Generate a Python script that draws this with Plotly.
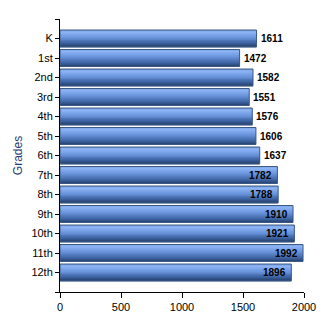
import plotly.graph_objects as go

grades = ["K", "1st", "2nd", "3rd", "4th", "5th", "6th", "7th", "8th", "9th", "10th", "11th", "12th"]
counts = [1611, 1472, 1582, 1551, 1576, 1606, 1637, 1782, 1788, 1910, 1921, 1992, 1896]
x_ticks = [0, 500, 1000, 1500, 2000]

pos = list(range(len(grades)))
bar_w = 0.87

# vertical gradient (top -> bottom) approximating the Excel-style bars
stops = [(0.0, (0x70, 0x98, 0xd8)), (0.12, (0x8e, 0xb6, 0xf6)), (0.45, (0x6a, 0x94, 0xdc)),
         (0.8, (0x3f, 0x66, 0xa6)), (1.0, (0x28, 0x45, 0x72))]

def grad(t):
    for (t0, c0), (t1, c1) in zip(stops[:-1], stops[1:]):
        if t0 <= t <= t1:
            f = (t - t0) / (t1 - t0)
            return "rgb(%d,%d,%d)" % tuple(round(a + (b - a) * f) for a, b in zip(c0, c1))
    return "rgb(%d,%d,%d)" % stops[-1][1]

n = 17
fig = go.Figure()
sw = bar_w / n
for i in range(n):
    fig.add_trace(go.Bar(
        y=pos, x=counts, orientation="h",
        width=sw * 1.15, offset=-bar_w / 2 + i * sw,
        marker=dict(color=grad((i + 0.5) / n), line=dict(width=0)),
        hoverinfo="skip", showlegend=False,
    ))

fig.add_trace(go.Bar(
    y=pos, x=counts, orientation="h", width=bar_w,
    marker=dict(color="rgba(0,0,0,0)", line=dict(color="#3d5a86", width=1)),
    showlegend=False,
))

# value labels: outside for the shorter bars, inside end for the longer ones
for i, (p, c) in enumerate(zip(pos, counts)):
    outside = i < 7
    fig.add_annotation(
        x=c, y=p, xref="x", yref="y", text=str(c), showarrow=False,
        xanchor="left" if outside else "right", yanchor="middle",
        xshift=2 if outside else -3,
        font=dict(family="Arial, Liberation Sans", size=10, color="#000000", weight="bold"),
    )

fig.update_layout(
    width=330, height=330,
    margin=dict(l=60, r=26, t=19, b=38),
    barmode="overlay",
    paper_bgcolor="white", plot_bgcolor="white",
    font=dict(family="Arial, Liberation Sans", size=11, color="black"),
)
fig.update_xaxes(
    range=[0, 2000], tickvals=x_ticks, ticktext=[str(v) for v in x_ticks],
    showgrid=False, zeroline=False, showline=True, linecolor="black", linewidth=1,
    ticks="outside", ticklen=5, tickcolor="black", tickfont=dict(size=11),
    automargin=False,
)
fig.update_yaxes(
    range=[13, -1], tickvals=[-1] + pos + [13], ticktext=[""] + grades + [""],
    showgrid=False, zeroline=False, showline=True, linecolor="black", linewidth=1,
    ticks="outside", ticklen=4, tickcolor="black", tickfont=dict(size=11),
    title=dict(text="Grades", font=dict(size=12, color="#1f3f73"), standoff=6),
    automargin=False,
)

fig.write_html("out.html")
